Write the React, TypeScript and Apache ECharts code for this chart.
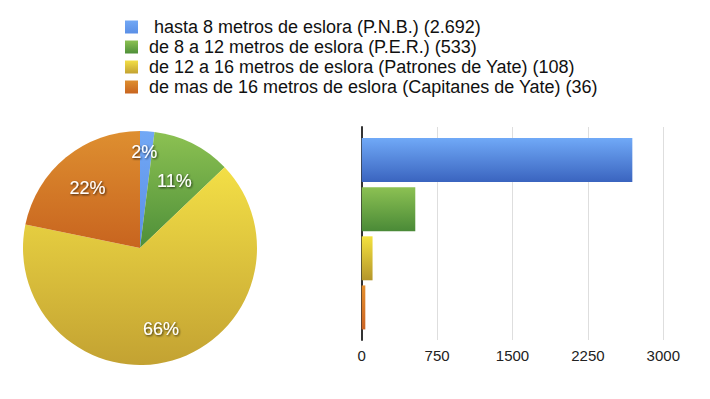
import React, { useEffect, useRef } from "react";
import * as echarts from "echarts";

const categories = [
  " hasta 8 metros de eslora (P.N.B.) (2.692)",
  "de 8 a 12 metros de eslora (P.E.R.) (533)",
  "de 12 a 16 metros de eslora (Patrones de Yate) (108)",
  "de mas de 16 metros de eslora (Capitanes de Yate) (36)",
];
const pieValues = [2, 11, 66, 22];
const barValues = [2692, 533, 108, 36];
const xTicks = [0, 750, 1500, 2250, 3000];

const pieColors = [
  ["#72a8f5", "#5a8fe6"],
  ["#8cc152", "#4e8f39"],
  ["#f3df46", "#c3a232"],
  ["#de8f30", "#c8641f"],
];
const barColors = [
  ["#70a9f7", "#3a64bf"],
  ["#8cc153", "#4a8a37"],
  ["#f4e23e", "#b4962b"],
  ["#e58f2c", "#cc6424"],
];
const labelOffsets = [
  [-1, -13],
  [-3, 7],
  [-2, 1],
  [0, 4],
];

const grad = (c: string[]) =>
  new echarts.graphic.LinearGradient(0, 0, 0, 1, [
    { offset: 0, color: c[0] },
    { offset: 1, color: c[1] },
  ]);

export default function App() {
  const ref = useRef<HTMLDivElement>(null);
  useEffect(() => {
    if (!ref.current) return;
    const chart = echarts.init(ref.current, null, { renderer: "svg" });
    const font = "'Liberation Sans', Arial, Helvetica, sans-serif";
    chart.setOption({
      animation: false,
      textStyle: { fontFamily: font },
      legend: {
        orient: "vertical",
        left: 125,
        top: 17,
        padding: 0,
        itemWidth: 13,
        itemHeight: 13,
        itemGap: 0,
        icon: "rect",
        data: categories,
        textStyle: {
          fontFamily: font,
          fontSize: 18,
          lineHeight: 20,
          color: "#111",
          padding: [0, 0, 0, 6],
        },
        selectedMode: false,
      },
      grid: [
        { left: 361.7, right: 46.7, top: 127, bottom: 59 },
        { left: 361.7, right: 46.7, top: 135.5, bottom: 67 },
      ],
      xAxis: [
        {
          gridIndex: 0,
          type: "value",
          min: 0,
          max: xTicks[xTicks.length - 1],
          interval: 750,
          axisLine: { show: false },
          axisTick: { show: false },
          axisLabel: {
            fontSize: 15,
            color: "#222",
            margin: 8,
            fontFamily: font,
            formatter: (v: number) => String(v),
          },
          splitLine: { show: true, lineStyle: { color: "#dedede", width: 1 } },
        },
        {
          gridIndex: 1,
          type: "value",
          min: 0,
          max: xTicks[xTicks.length - 1],
          show: false,
        },
      ],
      yAxis: [
        {
          gridIndex: 0,
          type: "value",
          axisLine: { show: true, lineStyle: { color: "#333", width: 2 } },
          axisTick: { show: false },
          axisLabel: { show: false },
          splitLine: { show: false },
        },
        {
          gridIndex: 1,
          type: "category",
          inverse: true,
          data: categories,
          show: false,
        },
      ],
      series: [
        {
          type: "pie",
          center: [140, 248],
          radius: [0, 117],
          startAngle: 90,
          clockwise: true,
          silent: true,
          label: { show: false },
          labelLine: { show: false },
          data: categories.map((n, i) => ({
            name: n,
            value: pieValues[i],
            itemStyle: { color: grad(pieColors[i]) },
          })),
        },
        {
          type: "pie",
          center: [140, 248],
          radius: [43, 117],
          startAngle: 90,
          clockwise: true,
          silent: true,
          legendHoverLink: false,
          itemStyle: { color: "rgba(0,0,0,0)" },
          label: {
            show: true,
            position: "inside",
            formatter: "{c}%",
            color: "#fff",
            fontSize: 18,
            fontFamily: font,
            textShadowColor: "rgba(0,0,0,0.75)",
            textShadowBlur: 2,
            textShadowOffsetX: 1,
            textShadowOffsetY: 1,
          },
          labelLine: { show: false },
          data: pieValues.map((v, i) => ({
            name: "lbl" + i,
            value: v,
            label: { offset: labelOffsets[i] },
          })),
        },
        {
          type: "bar",
          xAxisIndex: 1,
          yAxisIndex: 1,
          barWidth: 44,
          data: barValues.map((v, i) => ({
            value: v,
            itemStyle: { color: grad(barColors[i]) },
          })),
        },
      ],
    });
    return () => chart.dispose();
  }, []);
  return <div ref={ref} style={{ width: 710, height: 399, position: "absolute", left: 0, top: 0 }} />;
}
